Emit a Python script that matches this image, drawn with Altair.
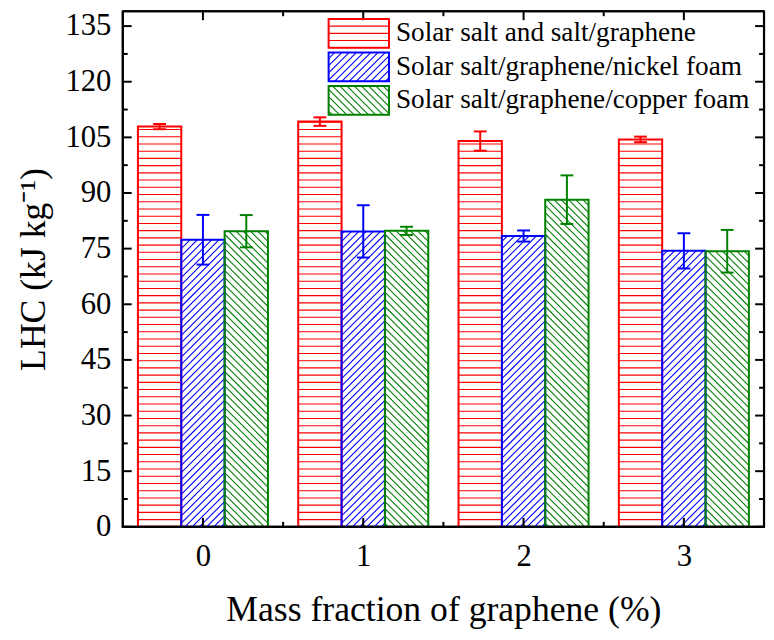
import altair as alt
import pandas as pd
import numpy as np

# ---------------- data ----------------
categories = [0, 1, 2, 3]
series = ["Solar salt and salt/graphene",
          "Solar salt/graphene/nickel foam",
          "Solar salt/graphene/copper foam"]
colors = ["#ff0000", "#0000ff", "#008000"]

lhc_salt = [107.9, 109.25, 104.0, 104.45]
err_salt = [0.7, 1.15, 2.6, 0.75]
lhc_nickel = [77.4, 79.65, 78.4, 74.4]
err_nickel = [6.7, 7.05, 1.5, 4.75]
lhc_copper = [79.7, 79.8, 88.2, 74.3]
err_copper = [4.35, 1.1, 6.55, 5.75]

y_ticks = [0, 15, 30, 45, 60, 75, 90, 105, 120, 135]
x_ticks = [0, 1, 2, 3]

# ---------------- layout / style ----------------
FONT = "Liberation Serif"
W, H = 648, 521
XDOM = [-0.5, 3.5]
YDOM = [0, 139]
KX = W / (XDOM[1] - XDOM[0])
KY = H / (YDOM[1] - YDOM[0])
BW = 0.2704          # bar width in category units
HATCH = 7.3          # hatch spacing in px
kinds = ["h", "/", "\\"]

values = [lhc_salt, lhc_nickel, lhc_copper]
errors = [err_salt, err_nickel, err_copper]


def hatch_segments(kind, wp, hp):
    segs = []
    if kind == "h":
        for py in np.arange(HATCH, hp - 0.5, HATCH):
            segs.append((0, py, wp, py))
    elif kind == "/":
        for c in np.arange(-wp + HATCH / 2, hp, HATCH):
            xs, xe = max(0, -c), min(wp, hp - c)
            if xe - xs > 0.5:
                segs.append((xs, xs + c, xe, xe + c))
    else:
        for c in np.arange(HATCH / 2, wp + hp, HATCH):
            xs, xe = max(0, c - hp), min(wp, c)
            if xe - xs > 0.5:
                segs.append((xs, c - xs, xe, c - xe))
    return segs


bar_rows, hatch_rows = [], []
for i, s in enumerate(series):
    for j, c in enumerate(categories):
        v, e = values[i][j], errors[i][j]
        xc = c + (i - 1) * BW
        x0, x1 = xc - BW / 2, xc + BW / 2
        bar_rows.append(dict(series=s, cat=c, xc=xc, x0=x0, x1=x1, v=v,
                             base=0, lo=v - e, hi=v + e))
        X0p = (x0 - XDOM[0]) * KX
        for (ax, ay, bx, by) in hatch_segments(kinds[i], BW * KX, v * KY):
            hatch_rows.append(dict(series=s,
                                   xa=XDOM[0] + (X0p + ax) / KX, ya=ay / KY,
                                   xb=XDOM[0] + (X0p + bx) / KX, yb=by / KY))
bars = pd.DataFrame(bar_rows)
hatch = pd.DataFrame(hatch_rows)

xs = alt.Scale(domain=XDOM, nice=False, zero=False)
ys = alt.Scale(domain=YDOM, nice=False, zero=False)
cs = alt.Scale(domain=series, range=colors)

xaxis = alt.Axis(values=x_ticks, format="d", ticks=False, domain=False, grid=False,
                 labelFontSize=31, labelFont=FONT, labelColor="black", labelPadding=15,
                 labelFlush=False, labelBound=False,
                 title="Mass fraction of graphene (%)", titleFontSize=36, titleFont=FONT,
                 titleFontWeight="normal", titleColor="black", titlePadding=22)
yaxis = alt.Axis(values=y_ticks, ticks=False, domain=False, grid=False,
                 labelFontSize=31, labelFont=FONT, labelColor="black", labelPadding=12,
                 labelFlush=False, labelBound=False, labelOverlap=False,
                 title="LHC (kJ kg\u207b\u00b9)", titleFontSize=36, titleFont=FONT,
                 titleFontWeight="normal", titleColor="black", titlePadding=13)

color = alt.Color("series:N", scale=cs, legend=None)

hatch_layer = alt.Chart(hatch).mark_rule(strokeWidth=1.1).encode(
    x=alt.X("xa:Q", scale=xs, axis=xaxis), x2="xb:Q",
    y=alt.Y("ya:Q", scale=ys, axis=yaxis), y2="yb:Q",
    color=color)

bar_layer = alt.Chart(bars).mark_rect(filled=False, strokeWidth=2).encode(
    x=alt.X("x0:Q", scale=xs, axis=xaxis), x2="x1:Q",
    y=alt.Y("v:Q", scale=ys, axis=yaxis), y2="base:Q",
    color=color)

err_layer = alt.Chart(bars).mark_rule(strokeWidth=2).encode(
    x=alt.X("xc:Q", scale=xs, axis=xaxis),
    y=alt.Y("lo:Q", scale=ys, axis=yaxis), y2="hi:Q",
    color=color)

cap_lo = alt.Chart(bars).mark_tick(orient="horizontal", size=13, thickness=2, opacity=1).encode(
    x=alt.X("xc:Q", scale=xs, axis=xaxis),
    y=alt.Y("lo:Q", scale=ys, axis=yaxis), color=color)
cap_hi = alt.Chart(bars).mark_tick(orient="horizontal", size=13, thickness=2, opacity=1).encode(
    x=alt.X("xc:Q", scale=xs, axis=xaxis),
    y=alt.Y("hi:Q", scale=ys, axis=yaxis), color=color)

# inward frame ticks
ymaj = pd.DataFrame({"t": y_ticks})
ymin = pd.DataFrame({"t": [(a + b) / 2 for a, b in zip(y_ticks, y_ticks[1:])]})
xmaj = pd.DataFrame({"t": x_ticks})
xmin = pd.DataFrame({"t": [(a + b) / 2 for a, b in zip(x_ticks, x_ticks[1:])]})


def yt(df, xa, xb):
    return alt.Chart(df).mark_rule(strokeWidth=2, color="black").encode(
        y=alt.Y("t:Q", scale=ys, axis=yaxis), x=alt.value(xa), x2=alt.value(xb))


def xt(df, ya, yb):
    return alt.Chart(df).mark_rule(strokeWidth=2, color="black").encode(
        x=alt.X("t:Q", scale=xs, axis=xaxis), y=alt.value(ya), y2=alt.value(yb))


tick_layers = [yt(ymaj, 0, 9), yt(ymaj, W, W - 9), yt(ymin, 0, 5), yt(ymin, W, W - 5),
               xt(xmaj, H, H - 9), xt(xmaj, 0, 9), xt(xmin, H, H - 5), xt(xmin, 0, 5)]

# plot frame: four edges of the plot area
one = pd.DataFrame({"f": [0]})


def edge(**enc):
    return alt.Chart(one).mark_rule(strokeWidth=2.2, color="black").encode(**enc)


frame_layers = [
    edge(x=alt.value(0), y=alt.value(0), y2=alt.value(H)),
    edge(x=alt.value(W), y=alt.value(0), y2=alt.value(H)),
    edge(y=alt.value(0), x=alt.value(0), x2=alt.value(W)),
    edge(y=alt.value(H), x=alt.value(-1), x2=alt.value(W + 1)),
]

main = alt.layer(hatch_layer, bar_layer, err_layer, cap_lo, cap_hi, *tick_layers, *frame_layers)

# ---------------- legend with hatched swatches ----------------
SW, SH = 61, 29


def unit_path(segs):
    out = []
    for (ax, ay, bx, by) in segs:
        out.append("M%.3f,%.3fL%.3f,%.3f" % ((ax - SW / 2) / (SW / 2), (SH / 2 - ay) / (SW / 2),
                                             (bx - SW / 2) / (SW / 2), (SH / 2 - by) / (SW / 2)))
    return "".join(out)


rect_path = "M-1,%.3fL1,%.3fL1,%.3fL-1,%.3fZ" % (-SH / SW, -SH / SW, SH / SW, SH / SW)
swatch_paths = [unit_path(hatch_segments(k, SW, SH)) for k in kinds]

leg = pd.DataFrame({"series": series})
ly = alt.Y("series:N", scale=alt.Scale(type="point", domain=series, range=[22.4, 90], padding=0),
           axis=None)
leg_hatch = alt.Chart(leg).mark_point(filled=False, size=SW * SW, strokeWidth=1.1, opacity=1).encode(
    x=alt.value(238.5), y=ly, color=color,
    shape=alt.Shape("series:N", scale=alt.Scale(domain=series, range=swatch_paths), legend=None))
leg_box = alt.Chart(leg).mark_point(filled=False, size=SW * SW, strokeWidth=2, opacity=1,
                                     shape=rect_path).encode(
    x=alt.value(238.5), y=ly, color=color)
leg_text = alt.Chart(leg).mark_text(align="left", baseline="middle", fontSize=27.5, font=FONT,
                                     color="black").encode(
    x=alt.value(276), y=ly, text="series:N")
legend = alt.layer(leg_hatch, leg_box, leg_text)

chart = alt.layer(main, legend).resolve_scale(y="independent").properties(
    width=W, height=H,
    background="white",
    autosize=alt.AutoSizeParams(type="none"),
    padding={"left": 116, "top": 0, "right": 2, "bottom": 103},
).configure_view(stroke="black", strokeWidth=2
).configure_axis(labelFont=FONT, titleFont=FONT
).configure_text(font=FONT)

chart.save("out.html", embed_options={"renderer": "svg", "actions": False})
